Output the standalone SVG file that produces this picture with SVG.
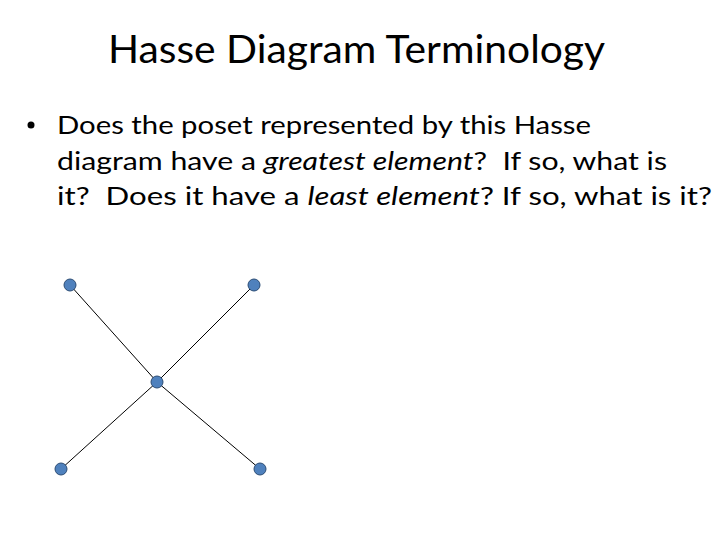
<svg xmlns="http://www.w3.org/2000/svg" width="720" height="540" viewBox="0 0 720 540">
<style>
.t{font-family:Lato,"Open Sans","Liberation Sans",sans-serif;fill:#000;white-space:pre}
.title{font-size:39px}
.body{font-size:25px}
.n{fill:#4f81bd;stroke:#2c4d75;stroke-width:1}
.e{stroke:#000;stroke-width:1}
</style>
<rect width="720" height="540" fill="#fff"/>
<text class="t title" x="108" y="63" textLength="497" lengthAdjust="spacingAndGlyphs">Hasse Diagram Terminology</text>
<circle cx="31" cy="125" r="3.5" fill="#000"/>
<text class="t body" x="57" y="134" textLength="534" lengthAdjust="spacingAndGlyphs">Does the poset represented by this Hasse</text>
<text class="t body" x="57" y="170" textLength="610" lengthAdjust="spacingAndGlyphs" xml:space="preserve">diagram have a <tspan font-style="italic">greatest element</tspan>?  If so, what is</text>
<text class="t body" x="57" y="205" textLength="655" lengthAdjust="spacingAndGlyphs" xml:space="preserve">it?  Does it have a <tspan font-style="italic">least element</tspan>? If so, what is it?</text>
<g id="connectors">
<line class="e" x1="70" y1="285" x2="157" y2="382"/>
<line class="e" x1="254" y1="285" x2="157" y2="382"/>
<line class="e" x1="61" y1="469" x2="157" y2="382"/>
<line class="e" x1="260" y1="469" x2="157" y2="382"/>
</g>
<g id="a"><circle class="n" cx="70" cy="285" r="6"/></g>
<g id="b"><circle class="n" cx="254" cy="285" r="6"/></g>
<g id="c"><circle class="n" cx="157" cy="382" r="6"/></g>
<g id="d"><circle class="n" cx="61" cy="469" r="6"/></g>
<g id="e"><circle class="n" cx="260" cy="469" r="6"/></g>
</svg>
